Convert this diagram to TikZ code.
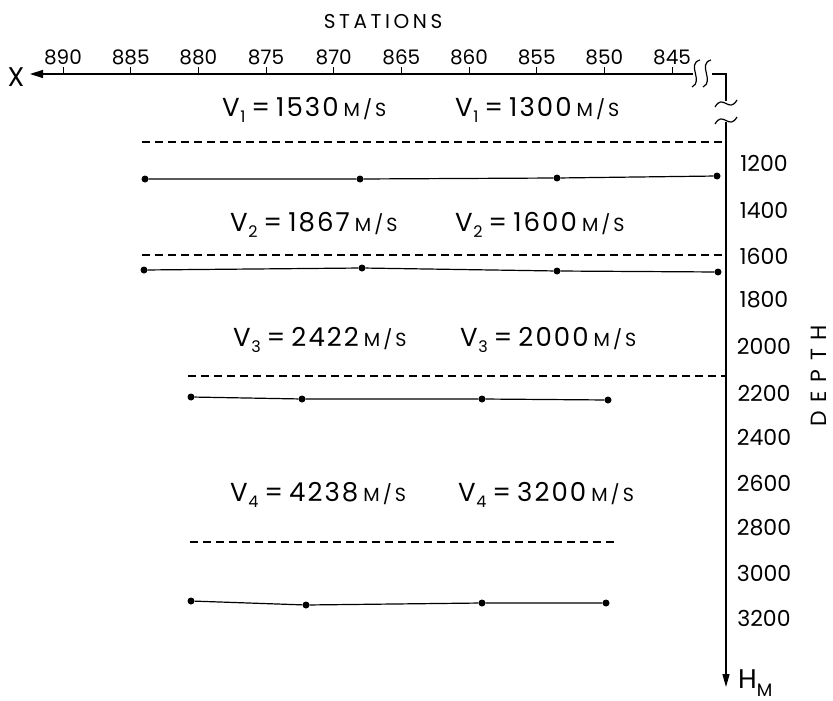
\documentclass[tikz,border=0pt]{standalone}
\usepackage{fontspec}
\setmainfont{Poppins}
\newfontfamily\spacedA[LetterSpace=18]{Poppins}
\newfontfamily\spacedB[LetterSpace=40]{Poppins}
\newfontfamily\velfont[LetterSpace=8]{Poppins}
\newfontfamily\msfont[LetterSpace=16]{Poppins}
\usetikzlibrary{arrows.meta}
\newcommand{\Vsub}[1]{V\kern0.5pt\raisebox{-0.45ex}{\fontsize{16}{16}\selectfont #1}}
\newcommand{\ms}{{\msfont\fontsize{19}{19}\selectfont M/S}}
\newcommand{\vlab}[2]{\Vsub{#1}\kern6pt=\kern6pt#2\kern5pt\ms}
\begin{document}
\begin{tikzpicture}[x=1pt,y=-1pt,
  ticklbl/.style={font=\fontsize{20}{20}\selectfont, inner sep=0pt},
  depthlbl/.style={font=\fontsize{22}{22}\selectfont, inner sep=0pt},
  vel/.style={font=\velfont\fontsize{26}{26}\selectfont, anchor=west, inner sep=0pt},
  axisln/.style={line width=1.4pt},
  hz/.style={line width=1.2pt},
  dsh/.style={line width=1.2pt, dash pattern=on 8pt off 5pt},
  dot/.style={circle, fill, inner sep=0pt, minimum size=7pt},
  brk/.style={line width=1.2pt}]
\useasboundingbox (0,0) rectangle (833,701);

% top axis
\node[font=\spacedA\fontsize{20}{20}\selectfont, inner sep=0pt] (stations) at (383,22) {STATIONS};
\coordinate (xend) at (693,74);
\coordinate (xtip) at (30,74);
\draw[axisln, -{Triangle[length=13pt,width=8pt]}] (xend) -- (xtip);
\node[font=\fontsize{27}{27}\selectfont, inner sep=0pt] (xlbl) at (16,77) {X};
\foreach \s [count=\i from 0] in {890,885,880,875,870,865,860,855,850,845}{
  \draw[line width=1pt] (63+67.67*\i,74) -- ++(0,-7);
  \node[ticklbl] (t\i) at (63+67.67*\i,57) {\s};
}
% breaks on horizontal axis
\draw[brk] (700,60) .. controls (686,64) and (704,81) .. (692,87);
\draw[brk] (711,60) .. controls (697,64) and (715,81) .. (703,87);
\coordinate (corner) at (726,74);
\coordinate (brkA) at (712,74);
\coordinate (vtop) at (726,101);
\draw[axisln] (brkA) -- (corner) -- (vtop);
% breaks on vertical axis
\draw[brk] (715,107) .. controls (723,93) and (729,114) .. (737,100);
\draw[brk] (715,124) .. controls (723,110) and (729,131) .. (737,117);
\coordinate (vstart) at (726,122);
\coordinate (vtip) at (726,687);
\draw[axisln, -{Triangle[length=13pt,width=7pt]}] (vstart) -- (vtip);
\node[font=\fontsize{27}{27}\selectfont, inner sep=0pt, anchor=west] (hm) at (738,683) {H\raisebox{-0.5ex}{\fontsize{18}{18}\selectfont M}};

% depth labels
\foreach \d/\y in {1200/163,1400/210,1600/256,1800/300,2000/346,2200/393,2400/437,2600/483,2800/528,3000/573,3200/618}{
  \node[depthlbl] (d\d) at (764,\y) {\d};
}
\node[font=\spacedB\fontsize{22}{22}\selectfont, inner sep=0pt, rotate=90] (depth) at (819,376) {DEPTH};

% velocities
\node[vel] (v1a) at (222,110) {\vlab{1}{1530}};
\node[vel] (v1b) at (455,110) {\vlab{1}{1300}};
\node[vel] (v2a) at (230,225) {\vlab{2}{1867}};
\node[vel] (v2b) at (455,225) {\vlab{2}{1600}};
\node[vel] (v3a) at (233,340) {\vlab{3}{2422}};
\node[vel] (v3b) at (460,340) {\vlab{3}{2000}};
\node[vel] (v4a) at (230,495) {\vlab{4}{4238}};
\node[vel] (v4b) at (458,495) {\vlab{4}{3200}};

% dashed boundaries
\coordinate (da1) at (142,142); \coordinate (db1) at (726,142);
\coordinate (da2) at (142,255); \coordinate (db2) at (726,255);
\coordinate (da3) at (188,376); \coordinate (db3) at (726,376);
\coordinate (da4) at (190,542); \coordinate (db4) at (616,542);
\foreach \k in {1,2,3,4}{ \draw[dsh] (da\k) -- (db\k); }

% solid horizons with points
\node[dot] (a1) at (145,179) {}; \node[dot] (b1) at (360,179) {};
\node[dot] (c1) at (557,178) {}; \node[dot] (e1) at (717,176) {};
\node[dot] (a2) at (144,270) {}; \node[dot] (b2) at (362,268) {};
\node[dot] (c2) at (557,271) {}; \node[dot] (e2) at (718,272) {};
\node[dot] (a3) at (191,397) {}; \node[dot] (b3) at (302,399) {};
\node[dot] (c3) at (482,399) {}; \node[dot] (e3) at (608,400) {};
\node[dot] (a4) at (191,601) {}; \node[dot] (b4) at (306,605) {};
\node[dot] (c4) at (482,603) {}; \node[dot] (e4) at (606,603) {};
\foreach \k in {1,2,3,4}{ \draw[hz] (a\k) -- (b\k) -- (c\k) -- (e\k); }
\end{tikzpicture}
\end{document}
